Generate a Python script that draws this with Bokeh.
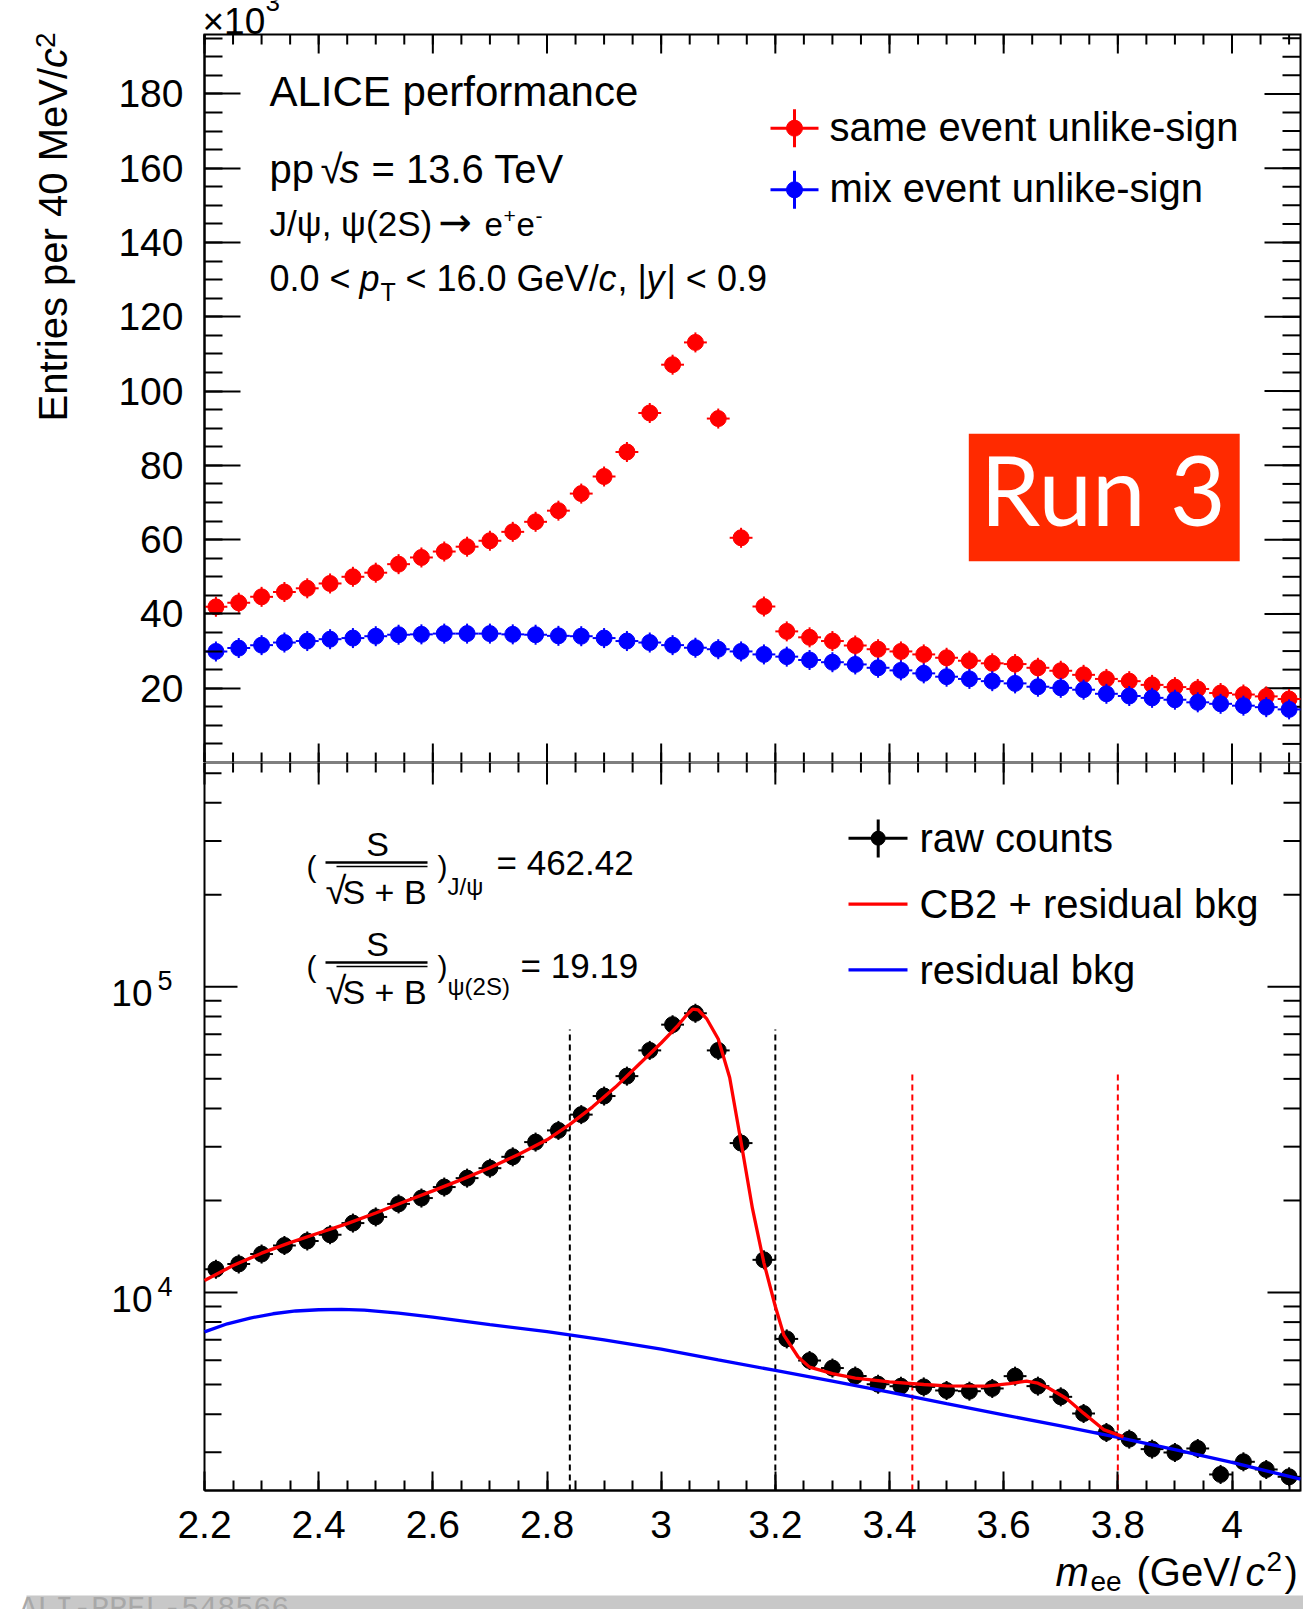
import math
from bokeh.plotting import figure
from bokeh.layouts import column
from bokeh.models import (FixedTicker, Label, BoxAnnotation, LinearAxis,
                          Range1d, NumeralTickFormatter)
from bokeh.embed import file_html
from bokeh.resources import INLINE

# ---------------- data ----------------
bin_width = 0.04
mass_bins = [2.22, 2.26, 2.30, 2.34, 2.38, 2.42, 2.46, 2.50, 2.54, 2.58,
             2.62, 2.66, 2.70, 2.74, 2.78, 2.82, 2.86, 2.90, 2.94, 2.98,
             3.02, 3.06, 3.10, 3.14, 3.18, 3.22, 3.26, 3.30, 3.34, 3.38,
             3.42, 3.46, 3.50, 3.54, 3.58, 3.62, 3.66, 3.70, 3.74, 3.78,
             3.82, 3.86, 3.90, 3.94, 3.98, 4.02, 4.06, 4.10]

# same event unlike-sign (x10^3 entries)
same_event_k = [41.9, 43.0, 44.6, 45.9, 46.9, 48.2, 50.0, 51.1, 53.4, 55.2,
                56.8, 58.1, 59.7, 62.1, 64.8, 67.8, 72.4, 77.0, 83.6, 94.1,
                107.1, 113.1, 92.6, 60.5, 42.0, 35.3, 33.7, 32.7, 31.5, 30.5,
                29.9, 29.1, 28.2, 27.4, 26.7, 26.5, 25.5, 24.7, 23.6, 22.5,
                21.9, 20.9, 20.3, 19.8, 18.7, 18.3, 17.8, 17.1]

# mix event unlike-sign (x10^3 entries)
mix_event_k = [29.9, 30.8, 31.6, 32.3, 32.7, 33.2, 33.5, 34.0, 34.4, 34.5,
               34.7, 34.7, 34.7, 34.5, 34.4, 34.1, 34.0, 33.5, 32.7, 32.3,
               31.6, 30.9, 30.5, 29.9, 29.1, 28.5, 27.6, 27.0, 26.4, 25.5,
               24.8, 24.0, 23.1, 22.5, 21.9, 21.3, 20.4, 20.1, 19.6, 18.5,
               17.9, 17.4, 16.9, 16.2, 15.8, 15.3, 14.9, 14.3]

# raw counts (bottom panel)
raw_counts = [11920, 12400, 13360, 14250, 14740, 15450, 16870, 17670, 19490, 20370,
              22130, 23670, 25510, 27790, 31050, 33910, 38190, 43930, 51040, 61950,
              75220, 81930, 61950, 30820, 12790, 7050, 5990, 5660, 5330, 5010,
              4935, 4910, 4780, 4755, 4853, 5325, 4939, 4557, 4019, 3483,
              3313, 3073, 2996, 3088, 2539, 2793, 2636, 2495]

# CB2 + residual bkg fit curve
fit_x = [2.20, 2.25, 2.30, 2.35, 2.40, 2.45, 2.50, 2.55, 2.60, 2.65,
         2.70, 2.75, 2.80, 2.84, 2.88, 2.92, 2.96, 3.00, 3.03, 3.045,
         3.055, 3.065, 3.08, 3.10, 3.12, 3.14, 3.16, 3.18, 3.20, 3.215,
         3.24, 3.26, 3.30, 3.34, 3.40, 3.46, 3.50, 3.57, 3.61, 3.64,
         3.66, 3.68, 3.71, 3.74, 3.775, 3.81]
fit_y = [10950, 12250, 13450, 14560, 15650, 16800, 18200, 19800, 21500, 23400,
         25600, 28300, 31600, 35500, 40500, 47000, 55500, 65500, 75000, 81000,
         84500, 84000, 78500, 67500, 50500, 31000, 18800, 12500, 9000, 7250,
         6150, 5700, 5430, 5250, 5100, 5000, 4950, 4940, 5030, 5130,
         5050, 4850, 4500, 4030, 3560, 3370]

# residual bkg curve
bkg_x = [2.20, 2.24, 2.28, 2.32, 2.36, 2.40, 2.44, 2.48, 2.54, 2.60,
         2.70, 2.80, 2.90, 3.00, 3.10, 3.20, 3.30, 3.40, 3.50, 3.60,
         3.70, 3.80, 3.90, 4.00, 4.12]
bkg_y = [7430, 7900, 8250, 8520, 8700, 8780, 8800, 8750, 8560, 8300,
         7850, 7450, 7000, 6530, 6020, 5560, 5130, 4720, 4330, 3980,
         3660, 3360, 3060, 2780, 2450]

# signal windows (GeV/c^2) and the height of their dashed markers
jpsi_window = [2.84, 3.20]
psi2s_window = [3.44, 3.80]
jpsi_window_top = 72500
psi2s_window_top = 51800

snr_jpsi = "462.42"
snr_psi2s = "19.19"

# axes
x_range = (2.2, 4.12)
y_top_range = (0.0, 196.0)          # x10^3
y_bot_range = (2250.0, 542000.0)    # log
x_major = [2.2, 2.4, 2.6, 2.8, 3.0, 3.2, 3.4, 3.6, 3.8, 4.0]
x_minor = [round(2.2 + 0.05 * i, 2) for i in range(39)]
y_top_major = [20, 40, 60, 80, 100, 120, 140, 160, 180]
y_top_minor = [5 * i for i in range(1, 40)]
y_bot_major = [1e4, 1e5]
y_bot_minor = [3000, 4000, 5000, 6000, 7000, 8000, 9000,
               20000, 30000, 40000, 50000, 60000, 70000, 80000, 90000,
               200000, 300000, 400000, 500000]
y_bot_labels = [("10", "4"), ("10", "5")]

# ---------------- layout (reference pixel geometry) ----------------
SANS = "Liberation Sans"
RED, BLUE, BLACK = "#ff0000", "#0000ff", "#000000"
RUN3 = "#ff2a00"
W = 1303
FL, FR = 204.0, 1300.0          # pad frame left/right (page px)
T1, B1 = 34.0, 762.0            # top pad frame
T2, B2 = 762.0, 1490.0          # bottom pad frame
P2_END = 1609.0                 # bottom pad canvas: 762 .. 1609
BAND_T, BAND_L = 1595.0, 26.0   # grey preliminary-ID band

# vertical centre of the text box relative to the baseline, per font (em)
MID = {SANS: 0.3465, "Lato": 0.387, "Liberation Mono": 0.2665, "DejaVu Sans": 0.346}


def X(px):
    return x_range[0] + (px - FL) / (FR - FL) * (x_range[1] - x_range[0])


def Y1(py):
    return y_top_range[0] + (B1 - py) / (B1 - T1) * (y_top_range[1] - y_top_range[0])


L0, L1 = math.log10(y_bot_range[0]), math.log10(y_bot_range[1])


def Y2(py):
    return 10 ** (L0 + (B2 - py) / (B2 - T2) * (L1 - L0))


def Y2px(v):
    return B2 - (math.log10(v) - L0) / (L1 - L0) * (B2 - T2)


def txt(p, s, px, py, yf, size, align="left", style="normal", color=BLACK,
        font=SANS, rot=False):
    """px, py: aligned x and BASELINE y, in page pixels."""
    k = MID[font] * size
    if rot:
        x, y, ang = X(px - k), yf(py), math.pi / 2
    else:
        x, y, ang = X(px), yf(py - k), 0.0
    p.add_layout(Label(x=x, y=y, text=s, text_font=font,
                       text_font_size=f"{size}px", text_align=align,
                       text_baseline="middle", text_font_style=style,
                       text_color=color, angle=ang))


def label_axis(ax, standoff, maj, mnr):
    ax.axis_label = None
    ax.major_tick_in = maj
    ax.minor_tick_in = mnr
    ax.major_tick_out = 0
    ax.minor_tick_out = 0
    ax.axis_line_width = 2
    ax.major_tick_line_width = 2
    ax.minor_tick_line_width = 2
    ax.axis_line_color = BLACK
    ax.major_tick_line_color = BLACK
    ax.minor_tick_line_color = BLACK
    ax.major_label_text_font = SANS
    ax.major_label_text_font_size = "39px"
    ax.major_label_text_color = BLACK
    ax.major_label_standoff = standoff


def ticks_h(p, xs, y_from, y_to):
    p.segment(x0=xs, y0=[y_from] * len(xs), x1=xs, y1=[y_to] * len(xs),
              line_color=BLACK, line_width=2)


def ticks_v(p, ys, x_from, x_to):
    p.segment(x0=[x_from] * len(ys), y0=ys, x1=[x_to] * len(ys), y1=ys,
              line_color=BLACK, line_width=2)


def frame_box(p, yr):
    x0, x1 = x_range
    y0, y1 = yr
    p.line([x0, x1, x1, x0, x0], [y0, y0, y1, y1, y0], line_color=BLACK,
           line_width=2, line_join="miter")


common = dict(output_backend="svg", toolbar_location=None,
              x_axis_location=None, y_axis_location=None,
              min_border_left=0, min_border_right=0, min_border_top=0, min_border_bottom=0,
              outline_line_color=None,
              background_fill_color="white", border_fill_color="white")

# ================= top pad (frame covers the whole canvas) =================
p1 = figure(width=W, height=int(B1), x_range=Range1d(X(0), X(W)),
            y_range=Range1d(Y1(B1), Y1(0)), **common)
p1.grid.visible = False
ax1 = LinearAxis(ticker=FixedTicker(ticks=y_top_major, minor_ticks=y_top_minor),
                 fixed_location=x_range[0], bounds=y_top_range)
label_axis(ax1, 21, 36, 18)
p1.add_layout(ax1, "left")
frame_box(p1, y_top_range)

# mirrored / unlabelled ticks
ticks_h(p1, x_major, Y1(B1), Y1(B1 - 19))
ticks_h(p1, x_minor, Y1(B1), Y1(B1 - 10))
ticks_h(p1, x_major, Y1(T1), Y1(T1 + 19))
ticks_h(p1, x_minor, Y1(T1), Y1(T1 + 10))
ticks_v(p1, y_top_major, X(FR), X(FR - 36))
ticks_v(p1, y_top_minor, X(FR), X(FR - 18))

half = bin_width / 2
for ys, col in ((same_event_k, RED), (mix_event_k, BLUE)):
    p1.segment(x0=[m - half for m in mass_bins], y0=ys,
               x1=[m + half for m in mass_bins], y1=ys, line_color=col, line_width=2)
    p1.scatter(mass_bins, ys, marker="dash", angle=math.pi / 2, size=20,
               line_color=col, line_width=2)
    p1.scatter(mass_bins, ys, marker="circle", size=16, fill_color=col, line_color=col)

# multiplier and y title
txt(p1, "×10", 202, 34, Y1, 37)
txt(p1, "3", 265, 11, Y1, 26)
txt(p1, "Entries per 40 MeV/", 66.5, 421, Y1, 40, rot=True)
txt(p1, "c", 66.5, 67.5, Y1, 40, style="italic", rot=True)
txt(p1, "2", 55, 47.5, Y1, 28, rot=True)

# header texts
txt(p1, "ALICE performance", 269, 106, Y1, 42)
txt(p1, "pp", 269, 182, Y1, 40)
txt(p1, "√", 320, 182, Y1, 40)
txt(p1, "s", 339, 182, Y1, 40, style="italic")
txt(p1, "= 13.6 TeV", 371, 182, Y1, 40)
txt(p1, "J/ψ, ψ(2S)", 269, 235, Y1, 35)
txt(p1, "→", 438, 235, Y1, 40, font="DejaVu Sans")
txt(p1, "e", 484, 235, Y1, 33)
txt(p1, "+", 503, 223, Y1, 21)
txt(p1, "e", 516, 235, Y1, 33)
txt(p1, "-", 535, 223, Y1, 21)
txt(p1, "0.0 <", 269, 290, Y1, 36)
txt(p1, "p", 359, 290, Y1, 36, style="italic")
txt(p1, "T", 380, 300, Y1, 25)
txt(p1, "< 16.0 GeV/", 405, 290, Y1, 36)
txt(p1, "c", 598, 290, Y1, 36, style="italic")
txt(p1, ", |", 617, 290, Y1, 36)
txt(p1, "y", 646, 290, Y1, 36, style="italic")
txt(p1, "| < 0.9", 666, 290, Y1, 36)

# legend (top)
for cy, base, col, lab in ((127.7, 140.7, RED, "same event unlike-sign"),
                           (189.3, 201.7, BLUE, "mix event unlike-sign")):
    p1.segment(x0=[X(770)], y0=[Y1(cy)], x1=[X(818)], y1=[Y1(cy)], line_color=col, line_width=3)
    p1.segment(x0=[X(794)], y0=[Y1(cy - 19)], x1=[X(794)], y1=[Y1(cy + 19)], line_color=col, line_width=3)
    p1.scatter([X(794)], [Y1(cy)], marker="circle", size=16, fill_color=col, line_color=col)
    txt(p1, lab, 829, base, Y1, 40)

# Run 3 box
p1.add_layout(BoxAnnotation(left=X(968.3), right=X(1239.2), top=Y1(433.3), bottom=Y1(560.7),
                            fill_color=RUN3, fill_alpha=1.0, line_color=None))
txt(p1, "Run 3", 1102.5, 525, Y1, 96, align="center", color="white", font="Lato")

# ================= bottom pad (frame covers the whole canvas) =================
p2 = figure(width=W, height=int(P2_END - T2), x_range=Range1d(X(0), X(W)),
            y_range=Range1d(Y2(P2_END), Y2(T2)), y_axis_type="log", **common)
p2.grid.visible = False
ax2 = LinearAxis(ticker=FixedTicker(ticks=x_major, minor_ticks=x_minor),
                 formatter=NumeralTickFormatter(format="0.[0]"),
                 fixed_location=y_bot_range[0], bounds=x_range)
label_axis(ax2, 20, 19, 10)
p2.add_layout(ax2, "below")
frame_box(p2, y_bot_range)

ticks_h(p2, x_major, Y2(T2), Y2(T2 + 22))
ticks_h(p2, x_minor, Y2(T2), Y2(T2 + 10))
ticks_v(p2, y_bot_major, X(FL), X(FL + 33))
ticks_v(p2, y_bot_minor, X(FL), X(FL + 17))
ticks_v(p2, y_bot_major, X(FR), X(FR - 33))
ticks_v(p2, y_bot_minor, X(FR), X(FR - 17))

ymin = y_bot_range[0]
p2.segment(x0=jpsi_window, y0=[ymin] * 2, x1=jpsi_window, y1=[jpsi_window_top] * 2,
           line_color=BLACK, line_width=2, line_dash="6 4")
p2.segment(x0=psi2s_window, y0=[ymin] * 2, x1=psi2s_window, y1=[psi2s_window_top] * 2,
           line_color=RED, line_width=2, line_dash="6 4")

p2.segment(x0=[m - half for m in mass_bins], y0=raw_counts,
           x1=[m + half for m in mass_bins], y1=raw_counts, line_color=BLACK, line_width=2)
p2.scatter(mass_bins, raw_counts, marker="dash", angle=math.pi / 2, size=19,
           line_color=BLACK, line_width=2)
p2.scatter(mass_bins, raw_counts, marker="circle", size=16, fill_color=BLACK, line_color=BLACK)
p2.line(bkg_x, bkg_y, line_color=BLUE, line_width=3.3)
p2.line(fit_x, fit_y, line_color=RED, line_width=3.3)

# log-axis labels
for (base, expo), v in zip(y_bot_labels, y_bot_major):
    ty = Y2px(v)
    txt(p2, base, 152, ty + 19, Y2, 37, align="right")
    txt(p2, expo, 157, ty + 3, Y2, 27)

# x title
txt(p2, "m", 1055, 1585, Y2, 40, style="italic")
txt(p2, "ee", 1090, 1591, Y2, 28)
txt(p2, "(GeV/", 1136, 1585, Y2, 40)
txt(p2, "c", 1245, 1585, Y2, 40, style="italic")
txt(p2, "2", 1266, 1571, Y2, 28)
txt(p2, ")", 1284, 1585, Y2, 40)

# S / sqrt(S+B) formulas
for dy, sub, sub_x, val, val_x, val_base in ((0, "J/ψ", 447, snr_jpsi, 496, 874.5),
                                             (100, "ψ(2S)", 447, snr_psi2s, 520, 977)):
    txt(p2, "(", 306, 876 + dy, Y2, 30)
    txt(p2, "S", 377, 855.5 + dy, Y2, 34, align="center")
    p2.segment(x0=[X(325)], y0=[Y2(862 + dy)], x1=[X(427)], y1=[Y2(862 + dy)],
               line_color=BLACK, line_width=2.5)
    p2.segment(x0=[X(336)], y0=[Y2(866 + dy)], x1=[X(427)], y1=[Y2(866 + dy)],
               line_color=BLACK, line_width=1.5)
    txt(p2, "√", 325, 904 + dy, Y2, 38)
    txt(p2, "S + B", 342, 903 + dy, Y2, 34)
    txt(p2, ")", 437, 876 + dy, Y2, 30)
    txt(p2, sub, sub_x, 894 + dy, Y2, 24)
    txt(p2, "= " + val, val_x, val_base, Y2, 35)

# legend (bottom)
p2.segment(x0=[X(848)], y0=[Y2(837.7)], x1=[X(907)], y1=[Y2(837.7)], line_color=BLACK, line_width=3)
p2.segment(x0=[X(877.7)], y0=[Y2(819)], x1=[X(877.7)], y1=[Y2(857)], line_color=BLACK, line_width=3)
p2.scatter([X(877.7)], [Y2(837.7)], marker="circle", size=14, fill_color=BLACK, line_color=BLACK)
txt(p2, "raw counts", 919, 851, Y2, 40)
p2.segment(x0=[X(848)], y0=[Y2(903.7)], x1=[X(907)], y1=[Y2(903.7)], line_color=RED, line_width=3.3)
txt(p2, "CB2 + residual bkg", 919, 917.7, Y2, 40)
p2.segment(x0=[X(848)], y0=[Y2(969.3)], x1=[X(907)], y1=[Y2(969.3)], line_color=BLUE, line_width=3.3)
txt(p2, "residual bkg", 919, 983.3, Y2, 40)

# preliminary-ID band at the very bottom (cut by the page edge, as in the reference)
p2.add_layout(BoxAnnotation(left=X(BAND_L), right=X(W), bottom=Y2(P2_END), top=Y2(BAND_T),
                            fill_color="#c8c8c8", fill_alpha=1.0, line_color=None))
txt(p2, "ALI-PREL-548566", 18.7, 1616, Y2, 30, color="#a8a8a8", font="Liberation Mono")

layout = column(p1, p2)
open("out.html", "w").write(file_html(layout, INLINE))
